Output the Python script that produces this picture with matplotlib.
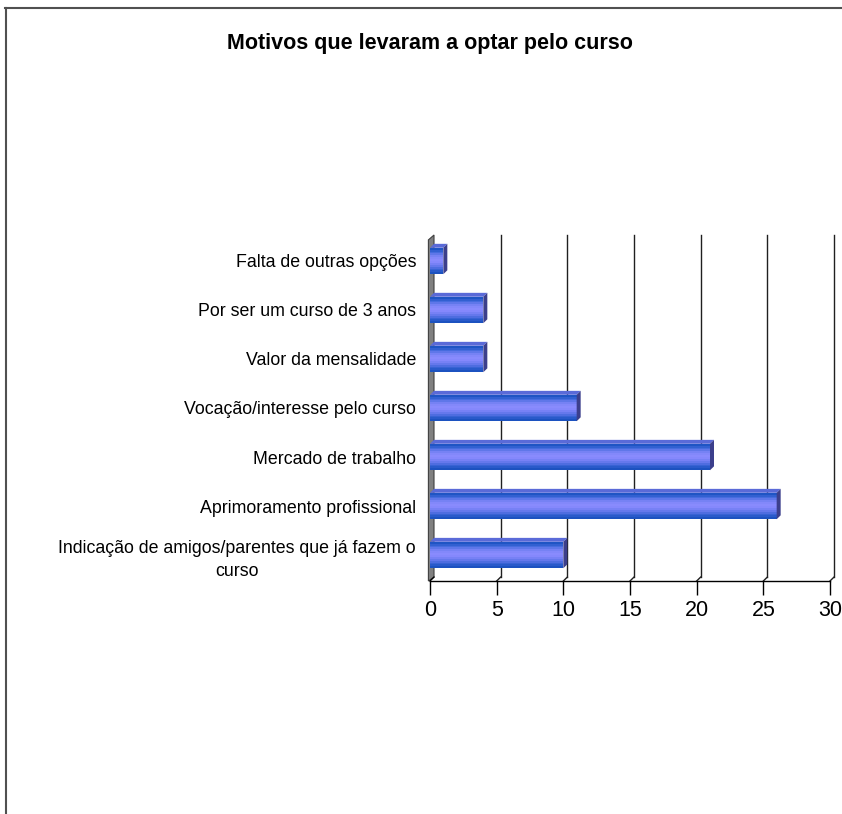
import numpy as np
import matplotlib
matplotlib.use('Agg')
import matplotlib.pyplot as plt
from matplotlib.patches import Polygon
from matplotlib.lines import Line2D
from matplotlib.colors import LinearSegmentedColormap

plt.rcParams['font.family'] = ['Liberation Sans', 'DejaVu Sans']

# ---------- dados ----------
titulo = 'Motivos que levaram a optar pelo curso'
categorias = [
    'Indicação de amigos/parentes que já fazem o\ncurso',
    'Aprimoramento profissional',
    'Mercado de trabalho',
    'Vocação/interesse pelo curso',
    'Valor da mensalidade',
    'Por ser um curso de 3 anos',
    'Falta de outras opções',
]
valores = [10, 26, 21, 11, 4, 4, 1]
xticks = [0, 5, 10, 15, 20, 25, 30]

# ---------- figura ----------
fig = plt.figure(figsize=(8.42, 8.14), dpi=100)
W, H = 842, 814
ax = fig.add_axes([430 / W, 1 - 581 / H, 400 / W, (581 - 235) / H])

ypos = np.arange(len(categorias))
ax.set_xlim(0, 30)
ax.set_ylim(-0.53, 6.53)

dx = 0.3     # deslocamento 3D em x (unidades de dados)
dy = 0.08    # deslocamento 3D em y
yfloor_back = -0.53 + dy

# parede lateral cinza
ax.add_patch(Polygon([(-0.12, -0.53), (-0.12, 6.43), (dx, 6.53), (dx, yfloor_back)],
                     closed=True, facecolor='#808080', edgecolor='#404040',
                     lw=0.8, clip_on=False, zorder=1))

# linhas de grade na parede do fundo + diagonais até o chão
for t in xticks[1:]:
    ax.plot([t + dx, t + dx], [yfloor_back, 6.53], color='#202020', lw=1.0,
            clip_on=False, zorder=0.5)
    ax.plot([t + dx, t], [yfloor_back, -0.53], color='#202020', lw=1.0,
            clip_on=False, zorder=0.5)
ax.plot([dx, 0], [yfloor_back, -0.53], color='black', lw=1.0, clip_on=False)

# barras com gradiente (efeito cilíndrico)
h = 0.54
cmap = LinearSegmentedColormap.from_list(
    'barra', ['#1f55c4', '#4a6ee0', '#7f86f8', '#8c8cff', '#6e7cf0', '#3a64d6', '#1c52c0'])
nb = 14
for y, v in zip(ypos, valores):
    for k in range(nb):
        y0 = y - h / 2 + k * h / nb
        ax.barh(y0, v, height=h / nb + 0.002, left=0, align='edge',
                color=cmap(1 - k / (nb - 1)), linewidth=0, zorder=3)
    # topo
    ax.add_patch(Polygon([(0, y + h / 2), (v, y + h / 2), (v + dx, y + h / 2 + dy),
                          (dx, y + h / 2 + dy)], closed=True, facecolor='#5a6ad8',
                         edgecolor='none', zorder=3))
    # tampa da extremidade
    ax.add_patch(Polygon([(v, y - h / 2), (v, y + h / 2), (v + dx, y + h / 2 + dy),
                          (v + dx, y - h / 2 + dy)], closed=True, facecolor='#3c3f8c',
                         edgecolor='none', zorder=3))

# eixos
for s in ['top', 'right', 'left']:
    ax.spines[s].set_visible(False)
ax.spines['bottom'].set_color('black')
ax.spines['bottom'].set_linewidth(1.0)
ax.set_xticks(xticks)
ax.set_xticklabels([str(t) for t in xticks], fontsize=15.5)
ax.tick_params(axis='x', direction='out', length=10, width=1.0, pad=4)
ax.set_yticks(ypos)
ax.set_yticklabels(categorias, fontsize=12.8, multialignment='center', linespacing=1.45)
ax.tick_params(axis='y', length=0, pad=10)

# título
fig.text(430 / W, 1 - 44 / H, titulo, ha='center', va='center',
         fontsize=15.5, fontweight='bold')

# moldura
fig.add_artist(Line2D([5 / W, 1], [1 - 8 / H, 1 - 8 / H], color='#505050', lw=1.5))
fig.add_artist(Line2D([6 / W, 6 / W], [1 - 8 / H, 0], color='#505050', lw=1.5))

fig.savefig('out.png', dpi=100)
